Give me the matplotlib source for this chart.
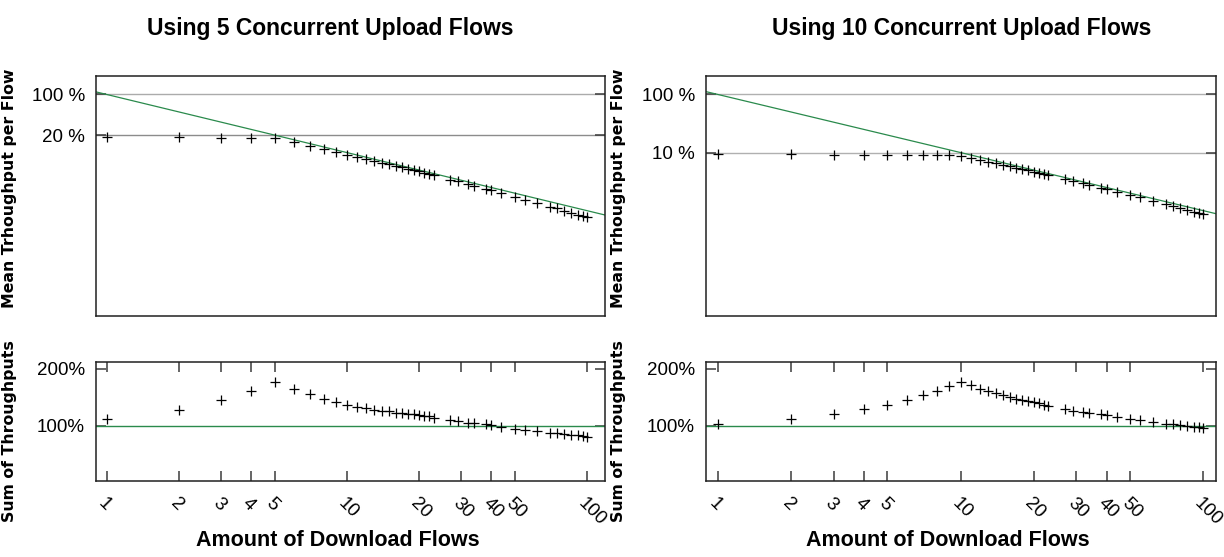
import matplotlib
matplotlib.use("Agg")
import matplotlib.pyplot as plt

# amount of download flows measured
flows = [1, 2, 3, 4, 5, 6, 7, 8, 9, 10, 11, 12, 13, 14, 15, 16, 17, 18, 19, 20,
         21, 22, 23, 27, 29, 32, 34, 38, 40, 44, 50, 55, 62, 70, 75, 80, 86, 92,
         96, 100]

# mean throughput per flow in % (5 upload flows)
mean_5 = [18.7, 18.3, 18.1, 18.0, 17.7, 15.0, 13.0, 11.35, 10.07, 9.11, 8.31,
          7.68, 7.11, 6.66, 6.25, 5.86, 5.55, 5.26, 5.0, 4.78, 4.52, 4.31, 4.07,
          3.42, 3.18, 2.85, 2.68, 2.38, 2.26, 1.98, 1.73, 1.55, 1.35, 1.17, 1.09,
          1.0, 0.923, 0.856, 0.812, 0.77]
# sum of throughputs in % (5 upload flows)
sum_5 = [112.4, 128, 145, 161.6, 177.4, 165, 156, 147.5, 141, 136.7, 133, 130.5,
         128, 126.5, 125, 123, 122, 121, 120, 119.5, 117.5, 116.4, 114, 109.5,
         108, 105.5, 104.5, 102.5, 101.5, 97, 95, 93, 90.4, 88, 87, 85.3, 84, 83,
         82, 80.8]

# mean throughput per flow in % (10 upload flows)
mean_10 = [9.40, 9.28, 9.22, 9.20, 9.11, 9.08, 9.04, 8.98, 8.95, 8.87, 8.12, 7.50,
           6.98, 6.52, 6.12, 5.78, 5.46, 5.19, 4.95, 4.71, 4.48, 4.27, 4.08, 3.48,
           3.24, 2.96, 2.80, 2.50, 2.36, 2.13, 1.87, 1.69, 1.48, 1.29, 1.20, 1.12,
           1.04, 0.964, 0.917, 0.868]
# sum of throughputs in % (10 upload flows)
sum_10 = [103.4, 111.3, 119.8, 128.8, 136.7, 145.2, 153.7, 161.6, 170, 177.4,
          170.6, 165, 160.5, 156.5, 153, 150.3, 147.5, 145.2, 143.5, 141.2, 139,
          136.7, 134.5, 128.8, 126.5, 124.3, 123, 119.8, 118, 115, 112, 109.6,
          106.8, 103.4, 102.3, 101, 100, 98.3, 97.2, 95.5]

titles = ["Using 5 Concurrent Upload Flows", "Using 10 Concurrent Upload Flows"]
x_ticks = [1, 2, 3, 4, 5, 10, 20, 30, 40, 50, 100]
top_ticks = [[100, 20], [100, 10]]
top_labels = [["100 %", "20 %"], ["100 %", "10 %"]]
sum_ticks = [200, 100]
sum_labels = ["200%", "100%"]
fair_share = [(1, 100), (100, 1)]  # one flow gets 100 %, 100 flows get 1 % each

GREEN = "#2a8a4c"
TICKC = "#3c3c3c"
SANS = "Liberation Sans"

fig = plt.figure(figsize=(12.24, 5.57), dpi=100)

lefts = [96 / 1224, 706 / 1224]
widths = [509 / 1224, 510 / 1224]
xlims = [(0.902, 119), (0.893, 113)]
means = [mean_5, mean_10]
sums = [sum_5, sum_10]
grid_colors = [["#ababab", "#8c8c8c"], ["#b0b0b0", "#b0b0b0"]]
title_x = [330 / 1224, 962 / 1224]
xlabel_x = [338 / 1224, 948 / 1224]

for i in range(2):
    ax_top = fig.add_axes([lefts[i], 0.4332, widths[i], 0.4312])
    ax_bot = fig.add_axes([lefts[i], 0.1364, widths[i], 0.2131])

    # --- mean throughput per flow ---
    ax_top.set_xscale("log")
    ax_top.set_yscale("log")
    ax_top.set_xlim(*xlims[i])
    ax_top.set_ylim(0.0155, 212)
    for v, c in zip(top_ticks[i], grid_colors[i]):
        ax_top.axhline(v, color=c, lw=1.0, zorder=1)
    ax_top.axline(fair_share[0], fair_share[1], color=GREEN, lw=0.9, zorder=2)
    ax_top.plot(flows, means[i], "+", color="black", ms=7, mew=0.9, ls="none", zorder=3)
    ax_top.set_yticks(top_ticks[i], top_labels[i])
    ax_top.minorticks_off()
    ax_top.tick_params(axis="y", which="major", direction="in", left=True, right=True,
                       length=7, width=1.1, color=TICKC, pad=8, labelsize=13.5)
    ax_top.tick_params(axis="x", which="both", bottom=False, top=False, labelbottom=False)
    for lab in ax_top.get_yticklabels():
        lab.set_fontfamily(SANS)
    ax_top.set_ylabel("Mean Trhoughput per Flow", fontsize=11.3, fontweight="bold",
                      family="DejaVu Sans")
    ax_top.yaxis.set_label_coords(-0.156, 0.53)

    # --- sum of throughputs ---
    ax_bot.set_xscale("log")
    ax_bot.set_xlim(*xlims[i])
    ax_bot.set_ylim(3, 211)
    ax_bot.axhline(100, color=GREEN, lw=1.0, zorder=2)
    ax_bot.plot(flows, sums[i], "+", color="black", ms=7, mew=0.9, ls="none", zorder=3)
    ax_bot.set_yticks(sum_ticks, sum_labels)
    ax_bot.set_xticks(x_ticks, [str(t) for t in x_ticks])
    ax_bot.minorticks_off()
    ax_bot.tick_params(axis="y", direction="in", left=True, right=True, length=7,
                       width=1.1, color=TICKC, pad=8, labelsize=13.5)
    ax_bot.tick_params(axis="x", direction="in", bottom=True, top=True, length=7,
                       width=1.1, color=TICKC, pad=10, labelsize=13.5)
    for lab in ax_bot.get_yticklabels():
        lab.set_fontfamily(SANS)
    for lab in ax_bot.get_xticklabels():
        lab.set_fontfamily(SANS)
        lab.set_rotation(-45)
        lab.set_ha("left")
        lab.set_va("top")
        lab.set_rotation_mode("anchor")
    ax_bot.set_ylabel("Sum of Throughputs", fontsize=11.3, fontweight="bold",
                      family="DejaVu Sans")
    ax_bot.yaxis.set_label_coords(-0.156, 0.42)

    for ax in (ax_top, ax_bot):
        for sp in ax.spines.values():
            sp.set_color("#202020")
            sp.set_linewidth(1.1)

    fig.text(title_x[i], 1 - 28 / 557, titles[i], ha="center", va="center",
             fontsize=16.5, fontweight="bold", family=SANS)
    fig.text(xlabel_x[i], 1 - 541 / 557, "Amount of Download Flows", ha="center",
             va="center", fontsize=15.5, fontweight="bold", family=SANS)

fig.savefig("out.png", dpi=100)
